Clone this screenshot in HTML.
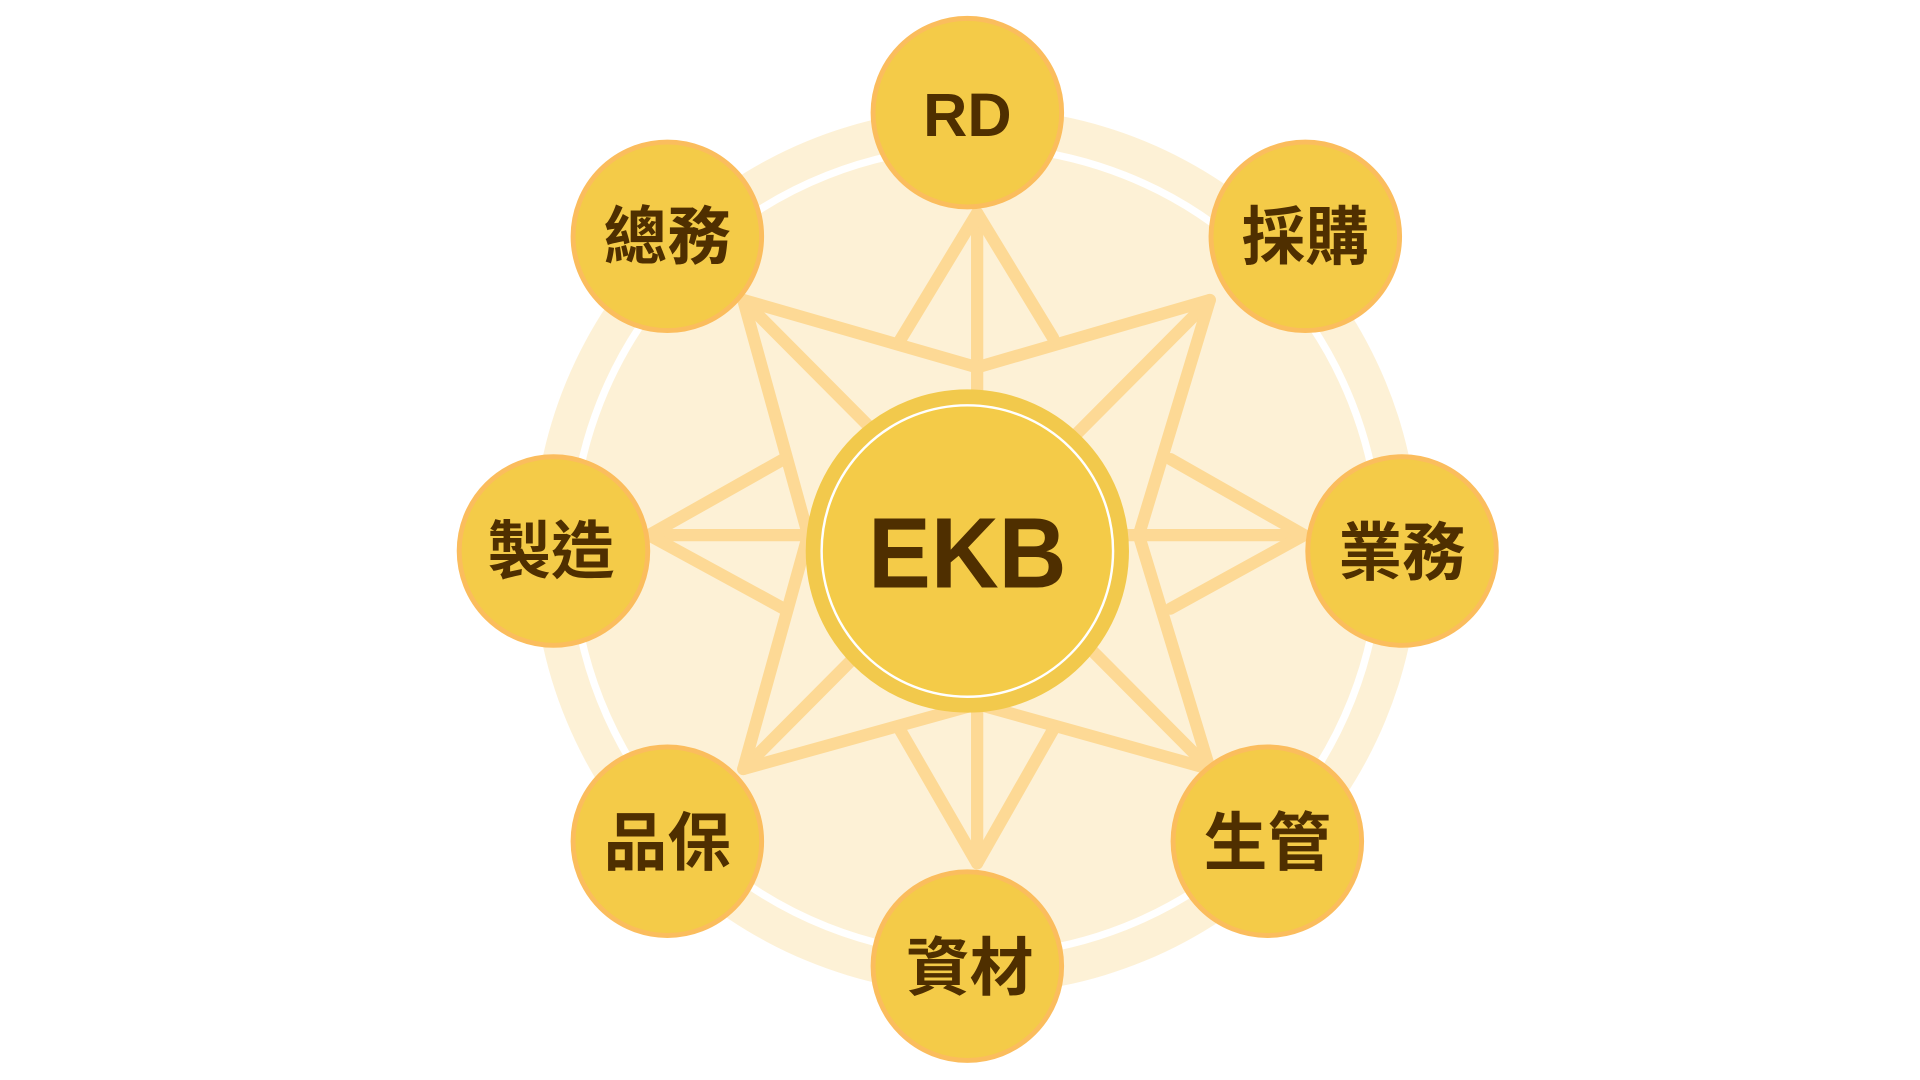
<!DOCTYPE html>
<html><head><meta charset="utf-8"><style>
html,body{margin:0;padding:0;background:#fff;}
svg{display:block}
text{font-family:"Liberation Sans","Noto Sans CJK TC",sans-serif;font-weight:bold;fill:#4f2f00;text-anchor:middle;dominant-baseline:central}
</style></head><body>
<svg width="1920" height="1080" viewBox="0 0 1568 882" xmlns="http://www.w3.org/2000/svg">
<circle cx="797" cy="450" r="362" fill="#fdf1d6"/>
<circle cx="797" cy="450" r="330" fill="none" stroke="#fff" stroke-width="6"/>
<g fill="none" stroke="#fdd995" stroke-width="10" stroke-linejoin="round" stroke-linecap="round">
<line x1="798" y1="174" x2="798" y2="705"/>
<line x1="530" y1="437" x2="1065" y2="437"/>
<line x1="607" y1="245" x2="988" y2="628"/>
<line x1="988" y1="245" x2="607" y2="628"/>
<polygon points="607,245 798,300 988,245 930,437 988,628 798,575 607,628 660,437"/>
<polyline points="735,278 798,174 860,276"/>
<polyline points="735,596 798,705 860,596"/>
<polyline points="640,375 530,437 640,497"/>
<polyline points="956,375 1065,437 956,497"/>
</g>
<circle cx="790" cy="450" r="126" fill="#f4cb48" stroke="#f2c94c" stroke-width="12"/>
<circle cx="790" cy="450" r="119" fill="none" stroke="#fff" stroke-width="2"/>
<text x="790" y="452" font-size="82" textLength="162" lengthAdjust="spacingAndGlyphs">EKB</text>
<g fill="#f4cb48" stroke="#fbbd5d" stroke-width="4">
<circle cx="790" cy="92" r="77"/>
<circle cx="1066" cy="193" r="77"/>
<circle cx="1145" cy="450" r="77"/>
<circle cx="1035" cy="687" r="77"/>
<circle cx="790" cy="789" r="77"/>
<circle cx="545" cy="687" r="77"/>
<circle cx="452" cy="450" r="77"/>
<circle cx="545" cy="193" r="77"/>
</g>
<g font-size="52">
<text x="790" y="94" font-size="50">RD</text>
<text x="1066" y="194">採購</text>
<text x="1145" y="452">業務</text>
<text x="1035" y="689">生管</text>
<text x="792" y="791">資材</text>
<text x="545" y="689">品保</text>
<text x="450" y="451">製造</text>
<text x="545" y="194">總務</text>
</g>
</svg>
</body></html>
